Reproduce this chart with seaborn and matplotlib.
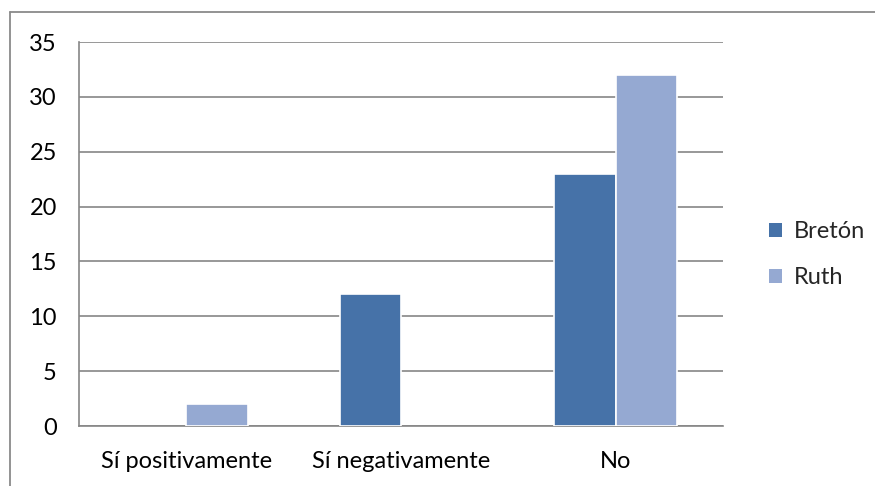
import matplotlib
matplotlib.use("Agg")
import matplotlib.pyplot as plt
import seaborn as sns
import pandas as pd
from matplotlib.patches import Rectangle
from matplotlib.lines import Line2D

categories = ["Sí positivamente", "Sí negativamente", "No"]
series_names = ["Bretón", "Ruth"]
breton = [0, 12, 23]
ruth = [2, 0, 32]
yticks = [0, 5, 10, 15, 20, 25, 30, 35]

colors = {"Bretón": "#4672A8", "Ruth": "#95A9D2"}

df = pd.DataFrame({
    "cat": categories * 2,
    "serie": [series_names[0]] * 3 + [series_names[1]] * 3,
    "val": breton + ruth,
})

sns.set_theme(style="white")
plt.rcParams["font.family"] = ["Lato", "DejaVu Sans"]

fig = plt.figure(figsize=(8.75, 4.86), dpi=100)
ax = fig.add_axes([79/875, 1-426/486, (723-79)/875, (426-42)/486])

sns.barplot(data=df, x="cat", y="val", hue="serie", palette=colors, saturation=1,
            width=0.57, gap=0, ax=ax, edgecolor="white", linewidth=1.2,
            legend=False, zorder=3)
for p in ax.patches:
    if p.get_height() == 0:
        p.set_visible(False)

fs = 17
ax.set_ylim(0, 35)
ax.set_yticks(yticks)
ax.set_yticklabels([str(t) for t in yticks], fontsize=fs)
ax.set_xlabel("")
ax.set_ylabel("")
ax.tick_params(axis="x", labelsize=fs, pad=18, length=0)
ax.tick_params(axis="y", pad=16, length=0)
for t in ax.get_xticklabels() + ax.get_yticklabels():
    t.set_color("black")
ax.grid(axis="y", color="#868686", linewidth=1.2, zorder=0)
ax.set_axisbelow(True)
for s in ["top", "right"]:
    ax.spines[s].set_visible(False)
for s in ["left", "bottom"]:
    ax.spines[s].set_color("#868686")
    ax.spines[s].set_linewidth(1.2)

handles = [Rectangle((0, 0), 1, 1, facecolor=colors[n], edgecolor="none") for n in series_names]
fig.legend(handles, series_names, loc="upper left", bbox_to_anchor=(748/875, 1-200/486),
           frameon=False, fontsize=fs, handlelength=0.55, handleheight=0.55,
           handletextpad=0.5, labelspacing=1.05)

fig.add_artist(Line2D([10/875, 10/875], [0, 1-12/486], transform=fig.transFigure,
                      color="#8a8a8a", linewidth=1.3))
fig.add_artist(Line2D([10/875, 1], [1-12/486, 1-12/486], transform=fig.transFigure,
                      color="#8a8a8a", linewidth=1.3))

fig.savefig("out.png", dpi=100)
